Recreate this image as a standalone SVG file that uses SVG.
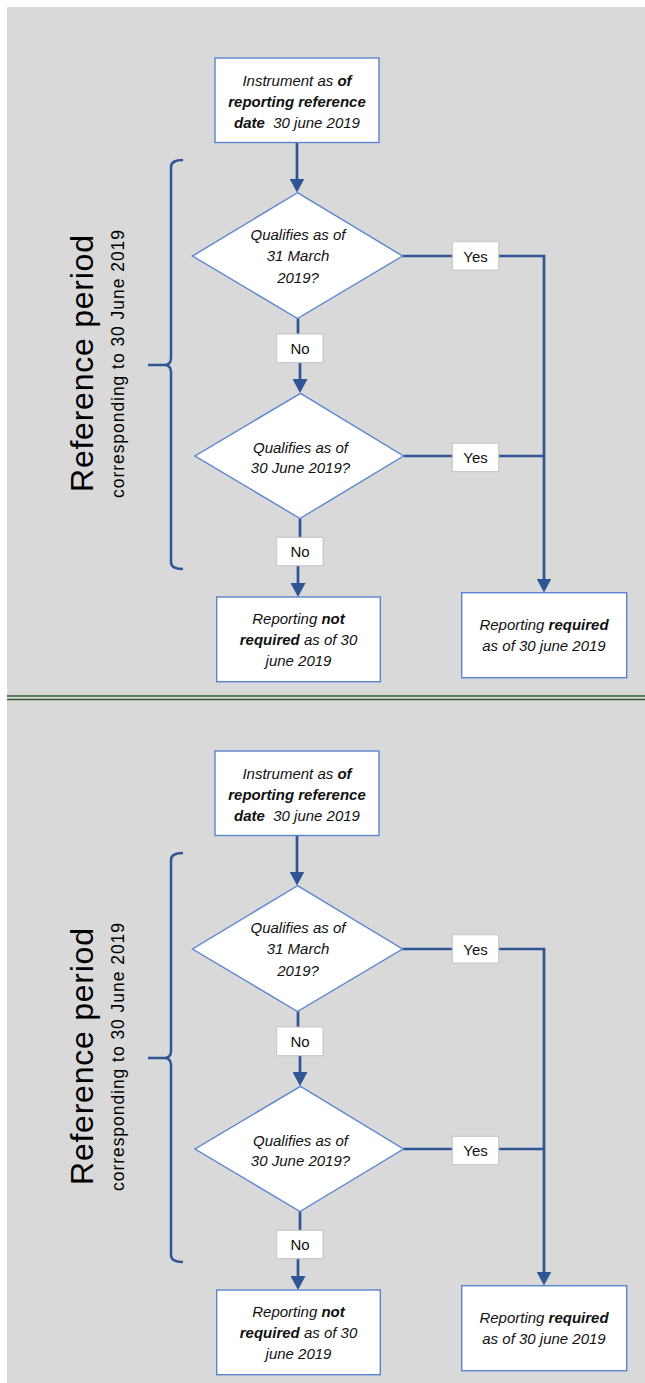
<svg xmlns="http://www.w3.org/2000/svg" width="645" height="1383" viewBox="0 0 645 1383">
<style>
.bg{fill:#d9d9d9}
.box{fill:#fff;stroke:#5b84cf;stroke-width:1.4}
.lbl{fill:#fff;stroke:#c4c4c4;stroke-width:1}
.conn{fill:none;stroke:#2f5597;stroke-width:2.7}
.brace{fill:none;stroke:#2f5597;stroke-width:2.5}
.t{font-family:"Liberation Sans",Arial,sans-serif;font-size:15px;font-style:italic;fill:#111;text-anchor:middle}
.r{font-family:"Liberation Sans",Arial,sans-serif;font-size:15px;fill:#111;text-anchor:middle}
.b{font-weight:bold}
.title{font-family:"Liberation Sans",Arial,sans-serif;font-size:32px;fill:#000;text-anchor:middle}
.sub{font-family:"Liberation Sans",Arial,sans-serif;font-size:17.5px;fill:#000;text-anchor:middle}
.sep{stroke:#2e5a2a;stroke-width:1.3}
</style>
<defs>
<marker id="ah" markerUnits="userSpaceOnUse" markerWidth="15" markerHeight="15" refX="3" refY="7.5" orient="auto">
<path d="M0,0 L14,7.5 L0,15 z" fill="#2f5597"/>
</marker>
</defs>
<rect class="bg" x="7" y="7" width="638" height="1376"/>
<line class="sep" x1="7" y1="696" x2="645" y2="696"/>
<line class="sep" x1="7" y1="699.5" x2="645" y2="699.5"/>

<g id="panel1">
<g id="connectors1">
<path class="conn" d="M297,143 V181.5" marker-end="url(#ah)"/>
<path class="conn" d="M298,318.5 V348 H300 V382" marker-end="url(#ah)"/>
<path class="conn" d="M402.5,256 H544 V581.5" marker-end="url(#ah)"/>
<path class="conn" d="M403.5,456 H544"/>
<path class="conn" d="M300,518.5 V551 H298 V586" marker-end="url(#ah)"/>
<path class="brace" d="M183,160 Q171,160 171,167 V358 Q171,365 164,365 H148 M164,365 Q171,365 171,372 V562 Q171,569 183,569"/>
</g>
<g id="refperiod1">
<text class="title" transform="translate(93,363.5) rotate(-90)" textLength="257">Reference period</text>
<text class="sub" transform="translate(123.5,364) rotate(-90)" textLength="268">corresponding to 30 June 2019</text>
</g>
<g id="start1">
<rect class="box" x="215" y="58" width="164" height="84.5"/>
<text class="t" x="297" y="86">Instrument as <tspan class="b">of</tspan></text>
<text class="t b" x="297" y="107">reporting reference</text>
<text class="t" x="297" y="128" xml:space="preserve"><tspan class="b">date</tspan>  30 june 2019</text>
</g>
<g id="decision1a">
<polygon class="box" points="297.5,192.7 402.5,256 297.5,318.5 192.5,256"/>
<text class="t" x="298" y="239.5">Qualifies as of</text>
<text class="t" x="298" y="261">31 March</text>
<text class="t" x="298" y="283">2019?</text>
</g>
<g id="decision1b">
<polygon class="box" points="300.5,393.3 403.5,456 300,518.5 195,456"/>
<text class="t" x="300.5" y="452.5">Qualifies as of</text>
<text class="t" x="300.5" y="473">30 June 2019?</text>
</g>
<g id="yes1a"><rect class="lbl" x="452.3" y="241.7" width="46.4" height="28.3"/><text class="r" x="475.5" y="261.5">Yes</text></g>
<g id="yes1b"><rect class="lbl" x="452.3" y="443.3" width="46.4" height="28.3"/><text class="r" x="475.5" y="462.5">Yes</text></g>
<g id="no1a"><rect class="lbl" x="276.7" y="334" width="46.3" height="28.7"/><text class="r" x="300" y="353.8">No</text></g>
<g id="no1b"><rect class="lbl" x="276.7" y="537.3" width="46.3" height="28.4"/><text class="r" x="300" y="557">No</text></g>
<g id="notreq1">
<rect class="box" x="216.7" y="597" width="163.6" height="84.7"/>
<text class="t" x="298.5" y="624">Reporting <tspan class="b">not</tspan></text>
<text class="t" x="298.5" y="645"><tspan class="b">required</tspan> as of 30</text>
<text class="t" x="298.5" y="666">june 2019</text>
</g>
<g id="req1">
<rect class="box" x="461.7" y="592.7" width="165" height="85"/>
<text class="t" x="544" y="630">Reporting <tspan class="b">required</tspan></text>
<text class="t" x="544" y="651">as of 30 june 2019</text>
</g>
</g>

<g id="panel2" transform="translate(0,693)">
<g id="connectors2">
<path class="conn" d="M297,143 V181.5" marker-end="url(#ah)"/>
<path class="conn" d="M298,318.5 V348 H300 V382" marker-end="url(#ah)"/>
<path class="conn" d="M402.5,256 H544 V581.5" marker-end="url(#ah)"/>
<path class="conn" d="M403.5,456 H544"/>
<path class="conn" d="M300,518.5 V551 H298 V586" marker-end="url(#ah)"/>
<path class="brace" d="M183,160 Q171,160 171,167 V358 Q171,365 164,365 H148 M164,365 Q171,365 171,372 V562 Q171,569 183,569"/>
</g>
<g id="refperiod2">
<text class="title" transform="translate(93,363.5) rotate(-90)" textLength="257">Reference period</text>
<text class="sub" transform="translate(123.5,364) rotate(-90)" textLength="268">corresponding to 30 June 2019</text>
</g>
<g id="start2">
<rect class="box" x="215" y="58" width="164" height="84.5"/>
<text class="t" x="297" y="86">Instrument as <tspan class="b">of</tspan></text>
<text class="t b" x="297" y="107">reporting reference</text>
<text class="t" x="297" y="128" xml:space="preserve"><tspan class="b">date</tspan>  30 june 2019</text>
</g>
<g id="decision2a">
<polygon class="box" points="297.5,192.7 402.5,256 297.5,318.5 192.5,256"/>
<text class="t" x="298" y="239.5">Qualifies as of</text>
<text class="t" x="298" y="261">31 March</text>
<text class="t" x="298" y="283">2019?</text>
</g>
<g id="decision2b">
<polygon class="box" points="300.5,393.3 403.5,456 300,518.5 195,456"/>
<text class="t" x="300.5" y="452.5">Qualifies as of</text>
<text class="t" x="300.5" y="473">30 June 2019?</text>
</g>
<g id="yes2a"><rect class="lbl" x="452.3" y="241.7" width="46.4" height="28.3"/><text class="r" x="475.5" y="261.5">Yes</text></g>
<g id="yes2b"><rect class="lbl" x="452.3" y="443.3" width="46.4" height="28.3"/><text class="r" x="475.5" y="462.5">Yes</text></g>
<g id="no2a"><rect class="lbl" x="276.7" y="334" width="46.3" height="28.7"/><text class="r" x="300" y="353.8">No</text></g>
<g id="no2b"><rect class="lbl" x="276.7" y="537.3" width="46.3" height="28.4"/><text class="r" x="300" y="557">No</text></g>
<g id="notreq2">
<rect class="box" x="216.7" y="597" width="163.6" height="84.7"/>
<text class="t" x="298.5" y="624">Reporting <tspan class="b">not</tspan></text>
<text class="t" x="298.5" y="645"><tspan class="b">required</tspan> as of 30</text>
<text class="t" x="298.5" y="666">june 2019</text>
</g>
<g id="req2">
<rect class="box" x="461.7" y="592.7" width="165" height="85"/>
<text class="t" x="544" y="630">Reporting <tspan class="b">required</tspan></text>
<text class="t" x="544" y="651">as of 30 june 2019</text>
</g>
</g>
</svg>
